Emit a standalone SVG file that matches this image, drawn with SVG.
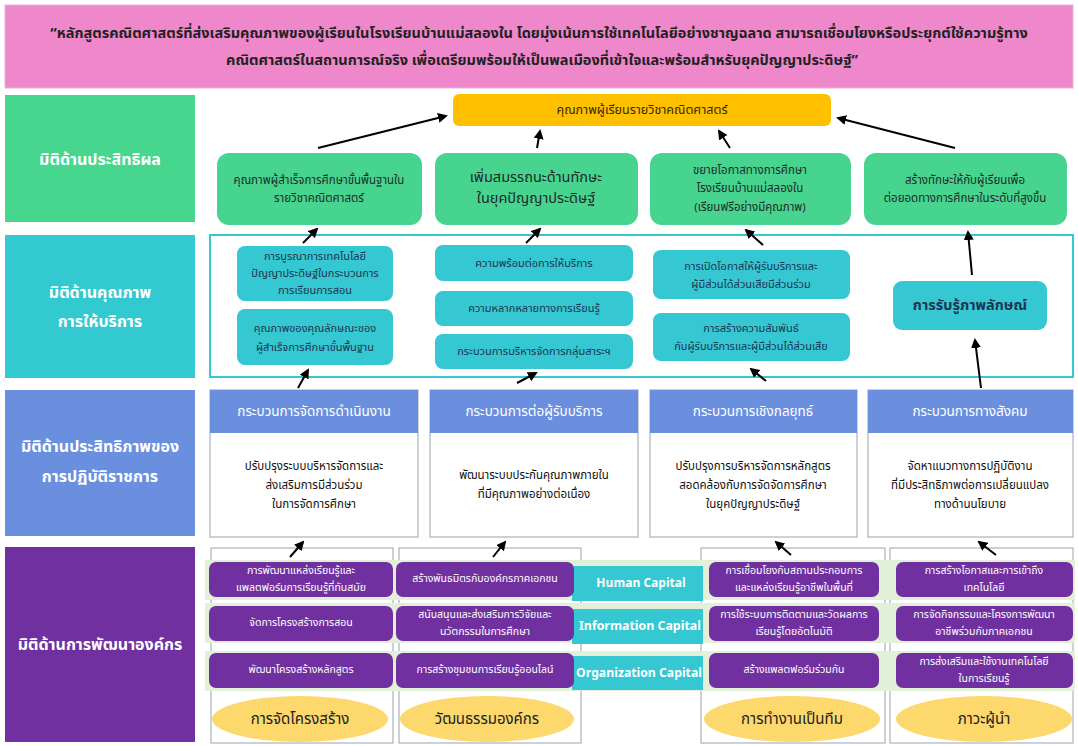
<svg xmlns="http://www.w3.org/2000/svg" width="1078" height="746" viewBox="0 0 1078 746">
<defs>
<marker id="ah" viewBox="0 0 10 10" refX="8" refY="5" markerWidth="5" markerHeight="5" orient="auto">
<path d="M0,0 L10,5 L0,10 z" fill="#000"/>
</marker>
<style>
text{font-family:"Noto Sans Thai","Tahoma","Leelawadee UI","DejaVu Sans","Noto Sans",sans-serif;text-anchor:middle;dominant-baseline:central}
.ban{font-size:14.5px;font-weight:bold;fill:#222}
.dim{font-size:16px;font-weight:bold;fill:#fff}
.g{fill:#47d48e}
.c{fill:#35c8d2}
.p{fill:#7030a0}
.t1{font-size:11.5px;fill:#1e2b2a}
.t1b{font-size:14.5px;fill:#1e2b2a}
.t2{font-size:11px;fill:#1d3550}
.t2b{font-size:14.5px;font-weight:bold;fill:#1d3550}
.hd{font-size:13.5px;fill:#fff}
.bd{font-size:11.5px;fill:#111}
.pt{font-size:10.5px;fill:#fff}
.cap{font-size:12px;font-weight:bold;fill:#fff}
.el{font-size:15px;fill:#222}
.card{fill:#fff;stroke:#9aa3ad;stroke-width:1}
.band{fill:#e2efd9}
.conn line{stroke:#000;stroke-width:2;marker-end:url(#ah)}
</style>
</defs>

<g id="banner">
<rect x="5" y="5" width="1068" height="83" fill="#ee88cb" stroke="#e2b4d2"/>
<text class="ban" x="539" y="34">“หลักสูตรคณิตศาสตร์ที่ส่งเสริมคุณภาพของผู้เรียนในโรงเรียนบ้านแม่สลองใน โดยมุ่งเน้นการใช้เทคโนโลยีอย่างชาญฉลาด สามารถเชื่อมโยงหรือประยุกต์ใช้ความรู้ทาง</text>
<text class="ban" x="542" y="61">คณิตศาสตร์ในสถานการณ์จริง เพื่อเตรียมพร้อมให้เป็นพลเมืองที่เข้าใจและพร้อมสำหรับยุคปัญญาประดิษฐ์”</text>
</g>

<g id="dim1"><rect x="5" y="95" width="190" height="127" fill="#46d68e"/><text class="dim" x="100" y="160">มิติด้านประสิทธิผล</text></g>
<g id="dim2"><rect x="5" y="235" width="190" height="143" fill="#33c9d1"/><text class="dim" x="100" y="293">มิติด้านคุณภาพ</text><text class="dim" x="100" y="322">การให้บริการ</text></g>
<g id="dim3"><rect x="5" y="390" width="190" height="146" fill="#6a8fdf"/><text class="dim" x="100" y="447">มิติด้านประสิทธิภาพของ</text><text class="dim" x="100" y="477">การปฏิบัติราชการ</text></g>
<g id="dim4"><rect x="5" y="547" width="190" height="195" fill="#7030a0"/><text class="dim" x="100" y="645">มิติด้านการพัฒนาองค์กร</text></g>

<!-- Row 1 -->
<g id="goal"><rect x="453" y="94" width="378" height="32" rx="6" fill="#ffc000"/><text x="642" y="110" style="font-size:12.5px;fill:#3a2800">คุณภาพผู้เรียนรายวิชาคณิตศาสตร์</text></g>
<g id="r1a"><rect class="g" x="217" y="153" width="205" height="72" rx="12"/><text class="t1" x="319" y="180">คุณภาพผู้สำเร็จการศึกษาขั้นพื้นฐานใน</text><text class="t1" x="319" y="198">รายวิชาคณิตศาสตร์</text></g>
<g id="r1b"><rect class="g" x="435" y="153" width="203" height="72" rx="12"/><text class="t1b" x="536" y="178">เพิ่มสมรรถนะด้านทักษะ</text><text class="t1b" x="536" y="199">ในยุคปัญญาประดิษฐ์</text></g>
<g id="r1c"><rect class="g" x="650" y="153" width="201" height="72" rx="12"/><text class="t1" x="750" y="170">ขยายโอกาสทางการศึกษา</text><text class="t1" x="750" y="188">โรงเรียนบ้านแม่สลองใน</text><text class="t1" x="750" y="207">(เรียนฟรีอย่างมีคุณภาพ)</text></g>
<g id="r1d"><rect class="g" x="864" y="153" width="203" height="72" rx="12"/><text class="t1" x="965" y="180">สร้างทักษะให้กับผู้เรียนเพื่อ</text><text class="t1" x="965" y="198">ต่อยอดทางการศึกษาในระดับที่สูงขึ้น</text></g>

<!-- Row 2 -->
<g id="r2frame"><rect x="210" y="235" width="863" height="142" fill="#fff" stroke="#35c8d2" stroke-width="2"/></g>
<g id="r2a1"><rect class="c" x="237" y="246" width="156" height="55" rx="8"/><text class="t2" x="315" y="256">การบูรณาการเทคโนโลยี</text><text class="t2" x="315" y="273">ปัญญาประดิษฐ์ในกระบวนการ</text><text class="t2" x="315" y="290">การเรียนการสอน</text></g>
<g id="r2a2"><rect class="c" x="237" y="309" width="156" height="56" rx="8"/><text class="t2" x="315" y="328">คุณภาพของคุณลักษณะของ</text><text class="t2" x="315" y="347">ผู้สำเร็จการศึกษาขั้นพื้นฐาน</text></g>
<g id="r2b1"><rect class="c" x="435" y="245" width="198" height="36" rx="8"/><text class="t2" x="534" y="263">ความพร้อมต่อการให้บริการ</text></g>
<g id="r2b2"><rect class="c" x="435" y="291" width="198" height="35" rx="8"/><text class="t2" x="534" y="308">ความหลากหลายทางการเรียนรู้</text></g>
<g id="r2b3"><rect class="c" x="435" y="334" width="198" height="35" rx="8"/><text class="t2" x="534" y="351">กระบวนการบริหารจัดการกลุ่มสาระฯ</text></g>
<g id="r2c1"><rect class="c" x="653" y="250" width="197" height="49" rx="8"/><text class="t2" x="751" y="266">การเปิดโอกาสให้ผู้รับบริการและ</text><text class="t2" x="751" y="284">ผู้มีส่วนได้ส่วนเสียมีส่วนร่วม</text></g>
<g id="r2c2"><rect class="c" x="653" y="313" width="197" height="48" rx="8"/><text class="t2" x="751" y="328">การสร้างความสัมพันธ์</text><text class="t2" x="751" y="346">กับผู้รับบริการและผู้มีส่วนได้ส่วนเสีย</text></g>
<g id="r2d"><rect class="c" x="893" y="281" width="154" height="49" rx="9"/><text class="t2b" x="970" y="306">การรับรู้ภาพลักษณ์</text></g>

<!-- Row 3 -->
<g id="r3a"><rect class="card" x="210" y="390" width="208" height="147"/><rect x="210" y="390" width="208" height="43" fill="#6a8fdf"/><text class="hd" x="314" y="412">กระบวนการจัดการดำเนินงาน</text><text class="bd" x="314" y="466">ปรับปรุงระบบบริหารจัดการและ</text><text class="bd" x="314" y="485">ส่งเสริมการมีส่วนร่วม</text><text class="bd" x="314" y="504">ในการจัดการศึกษา</text></g>
<g id="r3b"><rect class="card" x="430" y="390" width="208" height="147"/><rect x="430" y="390" width="208" height="43" fill="#6a8fdf"/><text class="hd" x="534" y="412">กระบวนการต่อผู้รับบริการ</text><text class="bd" x="534" y="475">พัฒนาระบบประกันคุณภาพภายใน</text><text class="bd" x="534" y="494">ที่มีคุณภาพอย่างต่อเนื่อง</text></g>
<g id="r3c"><rect class="card" x="650" y="390" width="207" height="147"/><rect x="650" y="390" width="207" height="43" fill="#6a8fdf"/><text class="hd" x="753" y="412">กระบวนการเชิงกลยุทธ์</text><text class="bd" x="753" y="466">ปรับปรุงการบริหารจัดการหลักสูตร</text><text class="bd" x="753" y="485">สอดคล้องกับการจัดจัดการศึกษา</text><text class="bd" x="753" y="504">ในยุคปัญญาประดิษฐ์</text></g>
<g id="r3d"><rect class="card" x="868" y="390" width="205" height="147"/><rect x="868" y="390" width="205" height="43" fill="#6a8fdf"/><text class="hd" x="970" y="412">กระบวนการทางสังคม</text><text class="bd" x="970" y="466">จัดหาแนวทางการปฏิบัติงาน</text><text class="bd" x="970" y="485">ที่มีประสิทธิภาพต่อการเปลี่ยนแปลง</text><text class="bd" x="970" y="504">ทางด้านนโยบาย</text></g>

<!-- Row 4 -->
<g id="r4frames">
<rect class="card" x="211" y="548" width="182" height="195"/>
<rect class="card" x="399" y="548" width="182" height="195"/>
<rect class="card" x="701" y="548" width="184" height="195"/>
<rect class="card" x="890" y="548" width="183" height="195"/>
<rect class="band" x="205" y="560" width="870" height="40"/>
<rect class="band" x="205" y="603" width="870" height="40"/>
<rect class="band" x="205" y="651" width="870" height="40"/>
</g>
<g id="humancap"><rect class="c" x="572" y="566" width="131" height="35"/><text class="cap" x="641" y="583">Human Capital</text></g>
<g id="infocap"><rect class="c" x="572" y="609" width="131" height="35"/><text class="cap" x="640" y="626" textLength="122" lengthAdjust="spacingAndGlyphs">Information Capital</text></g>
<g id="orgcap"><rect class="c" x="572" y="656" width="131" height="34"/><text class="cap" x="639" y="673" textLength="126" lengthAdjust="spacingAndGlyphs">Organization Capital</text></g>

<g id="p11"><rect class="p" x="209" y="562" width="184" height="35" rx="7"/><text class="pt" x="301" y="571">การพัฒนาแหล่งเรียนรู้และ</text><text class="pt" x="301" y="588">แพลตฟอร์มการเรียนรู้ที่ทันสมัย</text></g>
<g id="p12"><rect class="p" x="209" y="606" width="184" height="35" rx="7"/><text class="pt" x="301" y="623">จัดการโครงสร้างการสอน</text></g>
<g id="p13"><rect class="p" x="209" y="653" width="184" height="35" rx="7"/><text class="pt" x="301" y="670">พัฒนาโครงสร้างหลักสูตร</text></g>
<g id="p21"><rect class="p" x="396" y="562" width="178" height="35" rx="7"/><text class="pt" x="485" y="579">สร้างพันธมิตรกับองค์กรภาคเอกชน</text></g>
<g id="p22"><rect class="p" x="396" y="606" width="178" height="35" rx="7"/><text class="pt" x="485" y="615">สนับสนุนและส่งเสริมการวิจัยและ</text><text class="pt" x="485" y="632">นวัตกรรมในการศึกษา</text></g>
<g id="p23"><rect class="p" x="396" y="653" width="178" height="35" rx="7"/><text class="pt" x="485" y="670">การสร้างชุมชนการเรียนรู้ออนไลน์</text></g>
<g id="p31"><rect class="p" x="709" y="562" width="170" height="35" rx="7"/><text class="pt" x="794" y="571">การเชื่อมโยงกับสถานประกอบการ</text><text class="pt" x="794" y="588">และแหล่งเรียนรู้อาชีพในพื้นที่</text></g>
<g id="p32"><rect class="p" x="709" y="606" width="170" height="35" rx="7"/><text class="pt" x="794" y="615">การใช้ระบบการติดตามและวัดผลการ</text><text class="pt" x="794" y="632">เรียนรู้โดยอัตโนมัติ</text></g>
<g id="p33"><rect class="p" x="709" y="653" width="170" height="35" rx="7"/><text class="pt" x="794" y="670">สร้างแพลตฟอร์มร่วมกัน</text></g>
<g id="p41"><rect class="p" x="896" y="562" width="177" height="35" rx="7"/><text class="pt" x="984" y="571">การสร้างโอกาสและการเข้าถึง</text><text class="pt" x="984" y="588">เทคโนโลยี</text></g>
<g id="p42"><rect class="p" x="896" y="606" width="177" height="35" rx="7"/><text class="pt" x="984" y="615">การจัดกิจกรรมและโครงการพัฒนา</text><text class="pt" x="984" y="632">อาชีพร่วมกับภาคเอกชน</text></g>
<g id="p43"><rect class="p" x="896" y="653" width="177" height="35" rx="7"/><text class="pt" x="984" y="662">การส่งเสริมและใช้งานเทคโนโลยี</text><text class="pt" x="984" y="679">ในการเรียนรู้</text></g>

<g id="e1"><ellipse cx="300" cy="719" rx="88" ry="23" fill="#fdd86c"/><text class="el" x="300" y="719">การจัดโครงสร้าง</text></g>
<g id="e2"><ellipse cx="487" cy="719" rx="87" ry="23" fill="#fdd86c"/><text class="el" x="487" y="719">วัฒนธรรมองค์กร</text></g>
<g id="e3"><ellipse cx="792" cy="719" rx="88" ry="23" fill="#fdd86c"/><text class="el" x="792" y="719">การทำงานเป็นทีม</text></g>
<g id="e4"><ellipse cx="984" cy="719" rx="88" ry="23" fill="#fdd86c"/><text class="el" x="984" y="719">ภาวะผู้นำ</text></g>

<g id="connectors" class="conn">
<line x1="318" y1="148" x2="446" y2="116"/>
<line x1="537" y1="148" x2="540" y2="131"/>
<line x1="730" y1="148" x2="719" y2="131"/>
<line x1="955" y1="148" x2="838" y2="118"/>
<line x1="303" y1="243" x2="317" y2="229"/>
<line x1="526" y1="243" x2="540" y2="229"/>
<line x1="763" y1="245" x2="746" y2="230"/>
<line x1="972" y1="275" x2="968" y2="232"/>
<line x1="298" y1="388" x2="308" y2="370"/>
<line x1="517" y1="383" x2="536" y2="373"/>
<line x1="766" y1="381" x2="751" y2="369"/>
<line x1="981" y1="388" x2="975" y2="340"/>
<line x1="290" y1="557" x2="303" y2="542"/>
<line x1="493" y1="557" x2="505" y2="542"/>
<line x1="791" y1="555" x2="776" y2="542"/>
<line x1="996" y1="555" x2="979" y2="542"/>
</g>
</svg>
